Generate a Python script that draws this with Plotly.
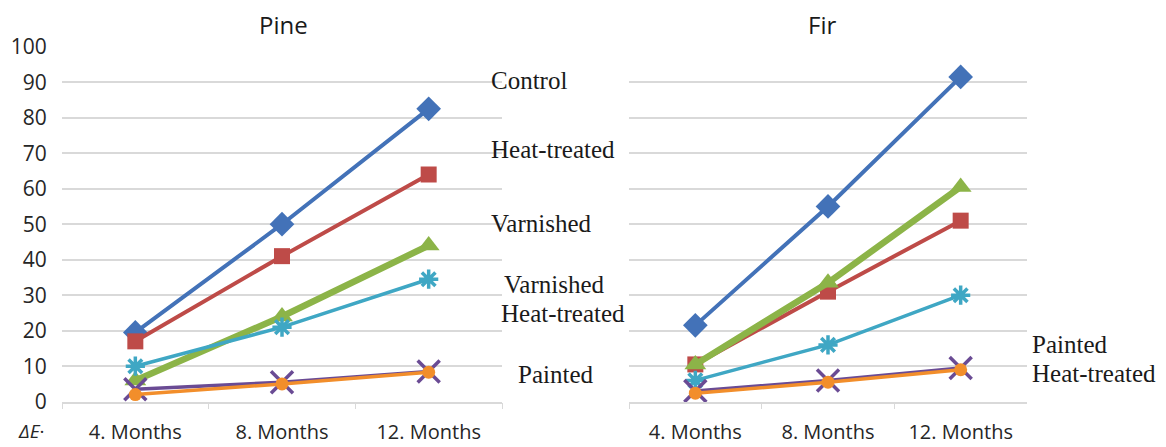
import plotly.graph_objects as go

months = ["4. Months", "8. Months", "12. Months"]

series_names = ["Control", "Heat-treated", "Varnished", "Varnished Heat-treated",
                "Painted", "Painted Heat-treated"]

pine_control = [19.5, 50, 82.5]
pine_heat = [17, 41, 64]
pine_varnished = [6, 24, 44]
pine_varn_heat = [10, 21, 34.5]
pine_painted = [3.5, 5.5, 8.5]
pine_painted_heat = [2, 5, 8.3]

fir_control = [21.5, 55, 91.5]
fir_heat = [10.5, 31, 51]
fir_varnished = [10.5, 33.5, 60.5]
fir_varn_heat = [6, 16, 30]
fir_painted = [3, 6, 9.5]
fir_painted_heat = [2.4, 5.5, 9]

y_ticks = list(range(0, 101, 10))

styles = [
    dict(color="#4372B8", symbol="diamond", size=19, lw=4, mlw=0),
    dict(color="#BE4B48", symbol="square", size=16, lw=4, mlw=0),
    dict(color="#8CB448", symbol="triangle-up", size=19, lw=6.5, mlw=0),
    dict(color="#3FA7C4", symbol="asterisk-open", size=16, lw=3.5, mlw=3.5),
    dict(color="#6A4B94", symbol="x-thin-open", size=22, lw=3.5, mlw=3.5),
    dict(color="#F28E2B", symbol="circle", size=13, lw=3.5, mlw=0),
]

pine = [pine_control, pine_heat, pine_varnished, pine_varn_heat, pine_painted, pine_painted_heat]
fir = [fir_control, fir_heat, fir_varnished, fir_varn_heat, fir_painted, fir_painted_heat]

fig = go.Figure()
for xa, ya, data in [("x", "y", pine), ("x2", "y2", fir)]:
    for name, vals, st in zip(series_names, data, styles):
        fig.add_trace(go.Scatter(
            x=months, y=vals, xaxis=xa, yaxis=ya, name=name, mode="lines+markers",
            line=dict(color=st["color"], width=st["lw"]),
            marker=dict(symbol=st["symbol"], size=st["size"], color=st["color"],
                        line=dict(color=st["color"], width=st["mlw"])),
            cliponaxis=False, showlegend=False,
        ))

W, H = 1166, 447
ytop, ybot = 1 - 46.7 / H, 1 - 401.7 / H
grid = "#D9D9D9"
xtick_font = dict(family="Open Sans, Liberation Sans, sans-serif", size=20, color="#262626")
ytick_font = dict(family="Open Sans, Liberation Sans, sans-serif", size=21, color="#262626")

common_x = dict(type="category", range=[-0.5, 2.5], tickson="boundaries", ticks="outside",
                ticklen=6, tickcolor=grid, showline=True, linecolor=grid, linewidth=1.5,
                showgrid=False, tickfont=xtick_font, ticklabelstandoff=12,
                automargin=False, fixedrange=True)
common_y = dict(range=[0, 100], tickvals=y_ticks, showgrid=True, gridcolor=grid,
                gridwidth=1.5, zeroline=False, showline=False, domain=[ybot, ytop],
                automargin=False, fixedrange=True)

fig.update_layout(
    width=W, height=H, margin=dict(l=0, r=0, t=0, b=0, autoexpand=False),
    plot_bgcolor="white", paper_bgcolor="white",
    xaxis=dict(domain=[62 / W, 502 / W], anchor="y", **common_x),
    xaxis2=dict(domain=[629 / W, 1027 / W], anchor="y2", **common_x),
    yaxis=dict(anchor="x", tickfont=ytick_font, ticks="outside", ticklen=10,
               tickcolor="rgba(0,0,0,0)", **common_y),
    yaxis2=dict(anchor="x2", showticklabels=False, **common_y),
)

serif = dict(family="Liberation Serif, Times New Roman, serif", size=25, color="#1a1a1a")
title_font = dict(family="Open Sans, Liberation Sans, sans-serif", size=24, color="#1a1a1a")
delta_font = dict(family="Open Sans, Liberation Sans, sans-serif", size=19, color="#262626")

notes = [
    ("Pine", 283, 25, title_font, "center"),
    ("Fir", 822, 25, title_font, "center"),
    ("Control", 489, 81, serif, "left"),
    ("Heat-treated", 489, 150, serif, "left"),
    ("Varnished", 489, 223, serif, "left"),
    ("Varnished", 502, 284, serif, "left"),
    ("Heat-treated", 499, 313, serif, "left"),
    ("Painted", 516, 374, serif, "left"),
    ("Painted", 1030, 344, serif, "left"),
    ("Heat-treated", 1030, 373, serif, "left"),
    ("<i>ΔE</i>·", 31, 431, delta_font, "center"),
]
for text, px, py, font, align in notes:
    fig.add_annotation(text=text, x=px / W, y=1 - py / H, xref="paper", yref="paper",
                       xanchor=align, yanchor="middle", showarrow=False, font=font)

fig.write_html("out.html")
